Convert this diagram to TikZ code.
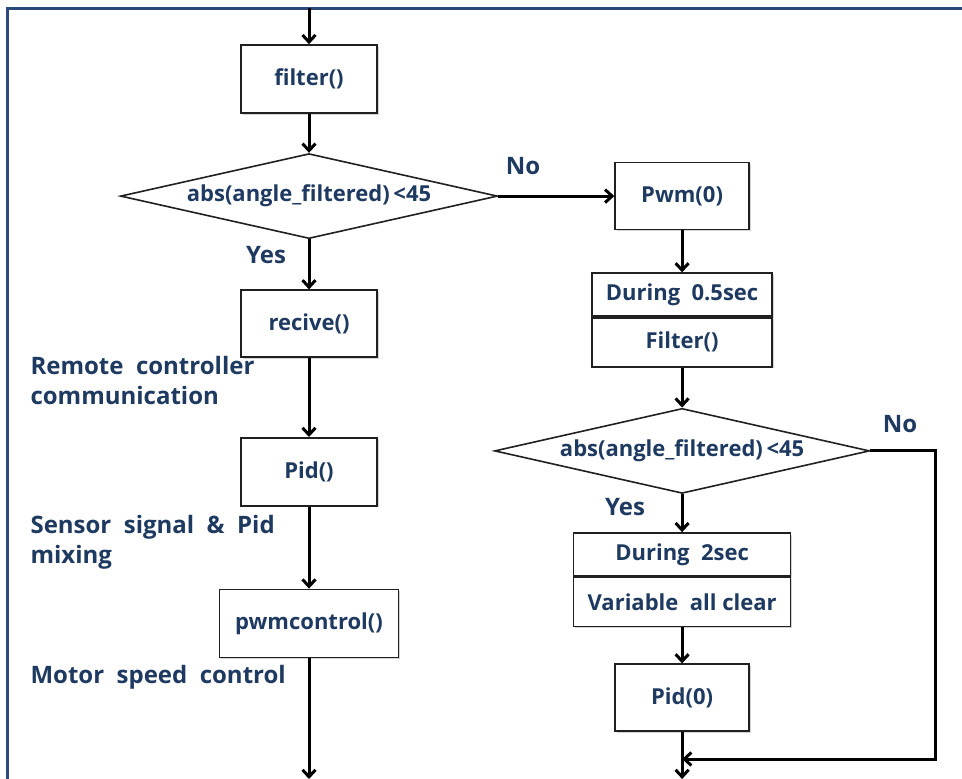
\documentclass[tikz,border=0pt]{standalone}
\usepackage{fontspec}
\setmainfont{Open Sans}
\usetikzlibrary{arrows.meta,positioning,shapes.geometric,shadows}
\definecolor{cText}{HTML}{1F3A60}
\definecolor{cFrame}{HTML}{2B4A7A}
\definecolor{cLine}{HTML}{202020}
\tikzset{
  box/.style={draw=cLine, line width=1.6pt, fill=white, text=cText,
              font=\bfseries\fontsize{22}{26}\selectfont, align=center, inner sep=0pt,
              drop shadow={opacity=0.35, shadow xshift=1.5pt, shadow yshift=-1.5pt}},
  test/.style={diamond, aspect=4.4, draw=cLine, line width=1.6pt, fill=white, text=cText,
               font=\bfseries\fontsize{22}{26}\selectfont, inner sep=0pt,
               minimum width=#1, minimum height=85pt},
  yn/.style={text=cText, font=\bfseries\fontsize{24}{28}\selectfont},
  note/.style={text=cText, font=\bfseries\fontsize{24}{30}\selectfont, align=left, anchor=west},
  flow/.style={-{Straight Barb[length=7pt,width=13pt]}, line width=3pt, draw=black},
}

\begin{document}
\begin{tikzpicture}[x=1pt, y=-1pt]
\useasboundingbox (0,0) rectangle (962,779);
\draw[cFrame, line width=3pt] (962,8) -- (7,8) -- (7,779);

% main loop
\coordinate (inL) at (309,8);
\node[box, minimum width=136pt, minimum height=68pt] (filter) at (309,79) {filter()};
\node[test=377pt, below=39pt of filter] (angL) {abs(angle\_filtered)\,<45};
\node[box, minimum width=136pt, minimum height=67pt, below=50pt of angL] (recv) {recive()};
\node[box, minimum width=136pt, minimum height=68pt, below=79pt of recv] (pid) {Pid()};
\node[box, minimum width=179pt, minimum height=68pt, below=82pt of pid] (pwmc) {pwmcontrol()};
\coordinate (outL) at (309,779);
\draw[flow] (inL) -- (filter); \draw[flow] (filter) -- (angL); \draw[flow] (angL) -- (recv);
\draw[flow] (recv) -- (pid); \draw[flow] (pid) -- (pwmc); \draw[flow] (pwmc) -- (outL);

% safety branch
\node[box, minimum width=134pt, minimum height=67pt, right=116pt of angL] (pwm0) {Pwm(0)};
\node[box, minimum width=180pt, minimum height=43pt, below=42pt of pwm0] (wait1) {During\ \ 0.5sec};
\node[box, minimum width=180pt, minimum height=49pt, below=0pt of wait1] (filt2) {Filter()};
\node[test=375pt, below=40pt of filt2] (angR) {abs(angle\_filtered)\,<45};
\node[box, minimum width=217pt, minimum height=43pt, below=38pt of angR] (wait2) {During\ \ 2sec};
\node[box, minimum width=217pt, minimum height=49pt, below=0pt of wait2] (clear) {Variable\ \ all clear};
\node[box, minimum width=134pt, minimum height=67pt, below=36pt of clear] (pid0) {Pid(0)};
\coordinate[below=27pt of pid0] (join);
\coordinate (outR) at (pid0 |- outL);
\draw[flow] (angL) -- (pwm0); \draw[flow] (pwm0) -- (wait1);
\draw[flow] (filt2) -- (angR); \draw[flow] (angR) -- (wait2);
\draw[flow] (clear) -- (pid0); \draw[flow] (pid0) -- (outR);
\draw[flow] (angR.east) -- ++(65,0) |- (join);

% labels
\node[yn] at (523,166) {No};
\node[yn] at (266,255) {Yes};
\node[yn] at (900,424) {No};
\node[yn] at (625,507) {Yes};
\node[note] at (27,380) {Remote\ \ controller\\communication};
\node[note] at (27,542) {Sensor\ \ signal\ \ \&\ \ Pid\\mixing};
\node[note] at (27,677) {Motor\ \ speed\ \ control};
\end{tikzpicture}
\end{document}
